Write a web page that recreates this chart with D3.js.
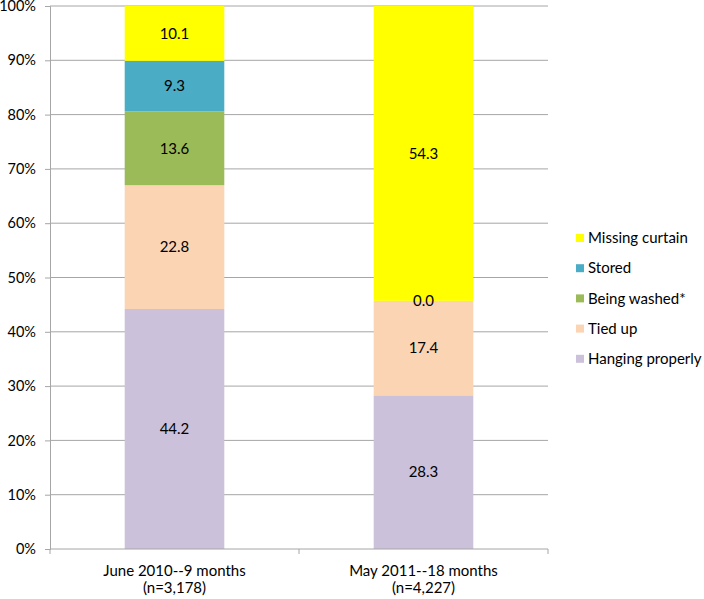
<!DOCTYPE html>
<html><head><meta charset="utf-8">
<script src="https://cdn.jsdelivr.net/npm/d3@7"></script>
<style>body{margin:0;background:#fff}text{font-family:Lato,"Open Sans",sans-serif}</style>
</head><body><svg id="c" width="704" height="599"></svg>
<script>
const categories = ["June 2010--9 months|(n=3,178)", "May 2011--18 months|(n=4,227)"];
const seriesNames = ["Hanging properly", "Tied up", "Being washed*", "Stored", "Missing curtain"];
const hanging = [44.2, 28.3];
const tiedUp = [22.8, 17.4];
const washed = [13.6, 0.0];
const stored = [9.3, null];
const missing = [10.1, 54.3];
const yTicks = [0,10,20,30,40,50,60,70,80,90,100];
const colors = ["#CCC1DA", "#FBD4B4", "#9BBB59", "#4BACC6", "#FFFF00"];

const series = [hanging, tiedUp, washed, stored, missing];
const svg = d3.select("#c");
const L = 50, R = 548, T = 6, B = 549;
const FS = 15;
const GRID = "#a6a6a6";
const x = d3.scaleBand().domain(categories).range([L, R]).paddingInner(0.6).paddingOuter(0.3);
const y = d3.scaleLinear().domain([0, 100]).range([B, T]);

// gridlines
svg.append("g").selectAll("line").data(yTicks.filter(d => d > 0)).join("line")
  .attr("x1", L).attr("x2", R).attr("y1", d => y(d)).attr("y2", d => y(d))
  .attr("stroke", GRID).attr("stroke-width", 1);

// y axis
const ya = svg.append("g").attr("transform", `translate(${L},0)`)
  .call(d3.axisLeft(y).tickValues(yTicks).tickFormat(d => d + "%").tickSize(5).tickPadding(9));
ya.select(".domain").attr("stroke", GRID);
ya.selectAll(".tick line").attr("stroke", GRID);
ya.selectAll(".tick text").attr("fill", "#000")
  .style("font-size", "14.5px").style("font-family", "Lato, 'Open Sans', sans-serif");

// bars
const labels = [];
categories.forEach((c, ci) => {
  let cum = 0;
  series.forEach((s, si) => {
    const v = s[ci];
    if (v === null) return;
    const y0 = y(cum), y1 = y(cum + v);
    svg.append("rect").attr("x", x(c)).attr("width", x.bandwidth())
      .attr("y", y1).attr("height", y0 - y1).attr("fill", colors[si]);
    labels.push({x: x(c) + x.bandwidth() / 2, y: (y0 + y1) / 2, t: v.toFixed(1)});
    cum += v;
  });
});
svg.append("g").selectAll("text").data(labels).join("text")
  .attr("x", d => d.x).attr("y", d => d.y).attr("text-anchor", "middle").attr("dy", "0.35em")
  .attr("font-size", FS).text(d => d.t);

// x axis
svg.append("line").attr("x1", L).attr("x2", R).attr("y1", B).attr("y2", B).attr("stroke", GRID);
[L, (L + R) / 2, R].forEach(px => svg.append("line").attr("x1", px).attr("x2", px)
  .attr("y1", B).attr("y2", B + 5).attr("stroke", GRID));
categories.forEach(c => {
  const parts = c.split("|");
  const t = svg.append("text").attr("text-anchor", "middle").attr("font-size", FS);
  parts.forEach((p, i) => t.append("tspan").attr("x", x(c) + x.bandwidth() / 2)
    .attr("y", 576 + i * 17).text(p));
});

// legend
const legOrder = [4, 3, 2, 1, 0];
legOrder.forEach((si, i) => {
  const yy = 238 + i * 30.2;
  svg.append("rect").attr("x", 576).attr("y", yy - 4).attr("width", 8).attr("height", 8).attr("fill", colors[si]);
  svg.append("text").attr("x", 588).attr("y", yy).attr("dy", "0.35em").attr("font-size", FS).text(seriesNames[si]);
});
</script></body></html>
